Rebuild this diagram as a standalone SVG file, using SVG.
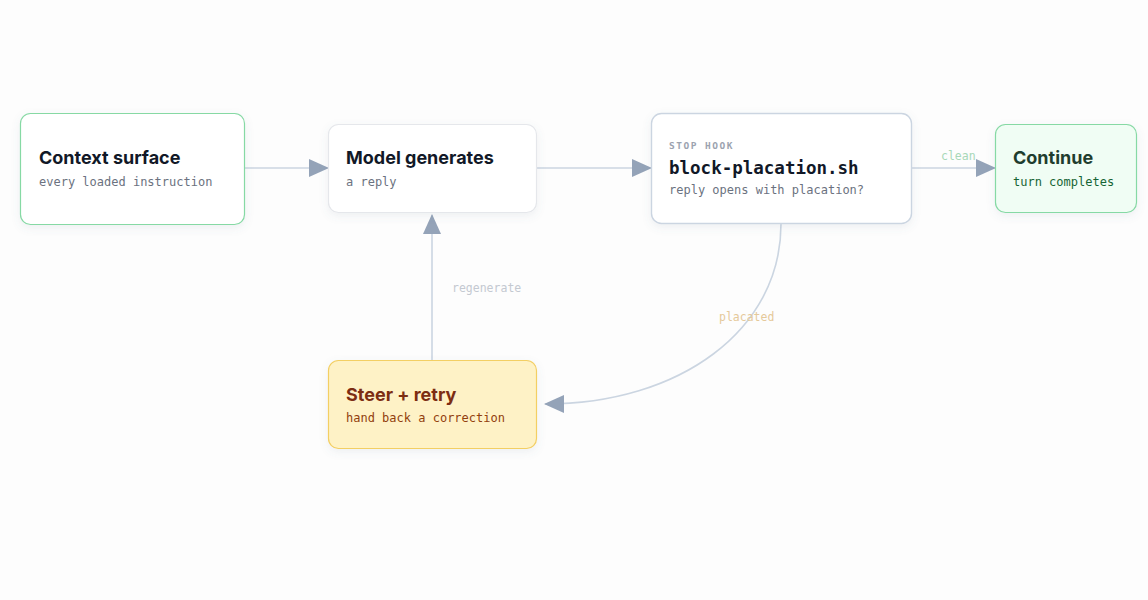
<svg xmlns="http://www.w3.org/2000/svg" width="1148" height="600" viewBox="0 0 1148 600">
<defs>
<marker id="ah" viewBox="0 0 20 20" refX="19" refY="10" markerWidth="20" markerHeight="20" markerUnits="userSpaceOnUse" orient="auto"><path d="M0,1 L20,10 L0,19 Z" fill="#94a3b8"/></marker>
<filter id="sh" x="-10%" y="-10%" width="120%" height="130%"><feDropShadow dx="0" dy="3" stdDeviation="4" flood-color="#64748b" flood-opacity="0.10"/></filter>
</defs>
<style>
.t{font-family:Inter,"Noto Sans",sans-serif;font-weight:700;font-size:18px;fill:#111827}
.s{font-family:"DejaVu Sans Mono","Liberation Mono",monospace;font-size:12px;fill:#6b7280}
.e{fill:none;stroke:#cbd5e1;stroke-width:1.6}
.l{font-family:"DejaVu Sans Mono","Liberation Mono",monospace;font-size:11.5px}
</style>
<rect width="1148" height="600" fill="#fdfdfd"/>
<g id="connectors">
<path class="e" d="M245 168 H328" marker-end="url(#ah)"/>
<path class="e" d="M537 168 H651" marker-end="url(#ah)"/>
<path class="e" d="M912 168 H995" marker-end="url(#ah)"/>
<path class="e" d="M432 360 V215" marker-end="url(#ah)"/>
<path class="e" d="M781 224 C781 330 680 404 545 404" marker-end="url(#ah)"/>
<text class="l" x="941" y="160" fill="#a7d8b8">clean</text>
<text class="l" x="452" y="292" fill="#c4c9d1">regenerate</text>
<text class="l" x="719" y="321" fill="#e5c99a">placated</text>
</g>
<g id="context">
<rect x="20.5" y="113.5" width="224" height="111" rx="10" fill="#fff" stroke="#86d9a4" stroke-width="1.2" filter="url(#sh)"/>
<text class="t" x="39" y="164">Context surface</text>
<text class="s" x="39" y="186">every loaded instruction</text>
</g>
<g id="model">
<rect x="328.5" y="124.5" width="208" height="88" rx="10" fill="#fff" stroke="#e5e7eb" stroke-width="1.2" filter="url(#sh)"/>
<text class="t" x="346" y="164">Model generates</text>
<text class="s" x="346" y="186">a reply</text>
</g>
<g id="stophook">
<rect x="651.5" y="113.5" width="260" height="110" rx="10" fill="#fff" stroke="#cbd5e1" stroke-width="1.4" filter="url(#sh)"/>
<text x="669" y="149" font-family="'DejaVu Sans Mono',monospace" font-size="9.5" font-weight="700" letter-spacing="1.5" fill="#9ca3af">STOP HOOK</text>
<text x="669" y="174" font-family="'DejaVu Sans Mono',monospace" font-size="17.5" font-weight="700" fill="#111827">block-placation.sh</text>
<text class="s" x="669" y="194">reply opens with placation?</text>
</g>
<g id="continue">
<rect x="995.5" y="124.5" width="141" height="88" rx="10" fill="#f0fdf4" stroke="#86d9a4" stroke-width="1.2" filter="url(#sh)"/>
<text class="t" x="1013" y="164" fill="#14532d" style="fill:#1f3d2e">Continue</text>
<text class="s" x="1013" y="186" style="fill:#166534">turn completes</text>
</g>
<g id="steer">
<rect x="328.5" y="360.5" width="208" height="88" rx="10" fill="#fef2c6" stroke="#f3cf63" stroke-width="1.2" filter="url(#sh)"/>
<text class="t" x="346" y="401" style="fill:#7c2d12">Steer + retry</text>
<text class="s" x="346" y="422" style="fill:#92400e">hand back a correction</text>
</g>
</svg>
